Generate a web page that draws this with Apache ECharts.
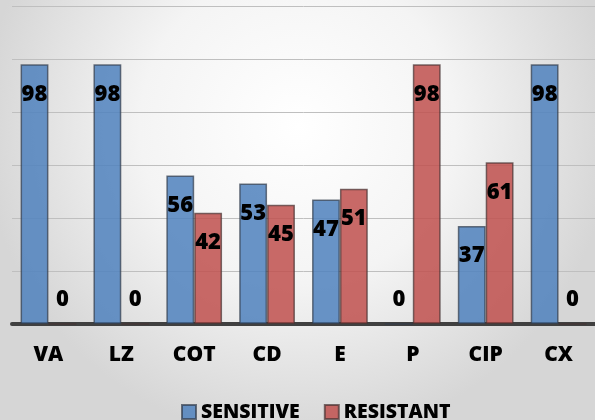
<!DOCTYPE html>
<html><head><meta charset="utf-8">
<script src="https://cdn.jsdelivr.net/npm/echarts@6/dist/echarts.min.js"></script>
<style>html,body{margin:0;padding:0;}#c{width:595px;height:420px;}</style>
</head><body><div id="c"></div>
<script>
const categories = ['VA','LZ','COT','CD','E','P','CIP','CX'];
const sensitive = [98,98,56,53,47,0,37,98];
const resistant = [0,0,42,45,51,98,61,0];
const seriesNames = ['SENSITIVE','RESISTANT'];

const FONT = '"Open Sans"';
function labelled(vals){
  return vals.map(v => v === 0
    ? {value: v, label: {position: 'top', distance: 13}}
    : v);
}
const chart = echarts.init(document.getElementById('c'), null, {renderer:'canvas'});
const labelStyle = {show:true, position:'insideTop', distance:19, fontFamily:FONT, fontWeight:800, fontSize:22, color:'#000'};
chart.setOption({
  animation:false,
  backgroundColor:{type:'radial', x:0.5, y:0.3, r:0.75, colorStops:[{offset:0,color:'#ffffff'},{offset:0.5,color:'#f4f4f4'},{offset:1,color:'#d6d6d6'}]},
  grid:{left:12, right:-13, top:6, bottom:96, containLabel:false},
  legend:{top:397, left:176, itemWidth:14, itemHeight:14, itemGap:24, icon:'rect',
    textStyle:{fontFamily:FONT, fontWeight:800, fontSize:19.5, color:'#000'}},
  xAxis:{type:'category', data:categories, axisTick:{show:false},
    axisLine:{lineStyle:{color:'#404040', width:4}},
    axisLabel:{fontFamily:FONT, fontWeight:800, fontSize:21, color:'#000', margin:21}},
  yAxis:{type:'value', min:0, max:120, interval:20, axisLabel:{show:false}, axisLine:{show:false}, axisTick:{show:false},
    splitLine:{lineStyle:{color:'#bfbfbf', width:1}}},
  series:[
    {name:seriesNames[0], type:'bar', data:labelled(sensitive), barGap:'0%', barCategoryGap:'23.5%',
      itemStyle:{color:'rgba(79,129,189,0.85)', borderColor:'rgba(50,60,75,0.7)', borderWidth:1.5},
      label:labelStyle},
    {name:seriesNames[1], type:'bar', data:labelled(resistant),
      itemStyle:{color:'rgba(192,80,77,0.85)', borderColor:'rgba(70,50,50,0.7)', borderWidth:1.5},
      label:labelStyle}
  ]
});
</script></body></html>
